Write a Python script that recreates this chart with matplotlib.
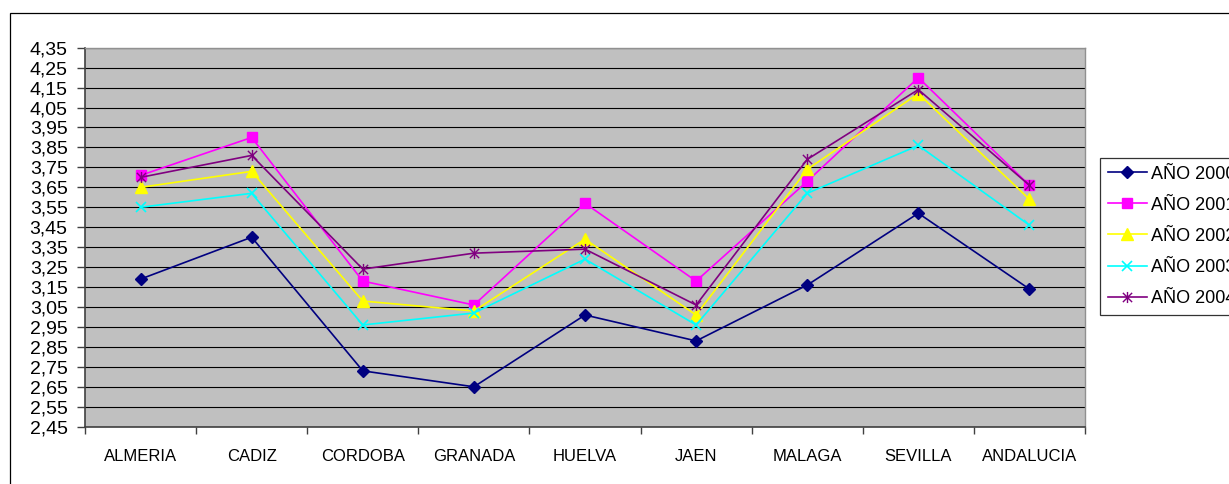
import matplotlib
matplotlib.use("Agg")
import matplotlib.pyplot as plt
from matplotlib.patches import Rectangle
from matplotlib.path import Path
from matplotlib.ticker import FixedLocator, FuncFormatter

plt.rcParams['font.family'] = ['Liberation Sans', 'DejaVu Sans']

categories = ["ALMERIA", "CADIZ", "CORDOBA", "GRANADA", "HUELVA", "JAEN", "MALAGA", "SEVILLA", "ANDALUCIA"]
series_names = ["AÑO 2000", "AÑO 2001", "AÑO 2002", "AÑO 2003", "AÑO 2004"]
ano_2000 = [3.19, 3.40, 2.73, 2.65, 3.01, 2.88, 3.16, 3.52, 3.14]
ano_2001 = [3.71, 3.90, 3.18, 3.06, 3.57, 3.18, 3.68, 4.20, 3.66]
ano_2002 = [3.65, 3.73, 3.08, 3.03, 3.39, 3.01, 3.74, 4.12, 3.59]
ano_2003 = [3.55, 3.62, 2.96, 3.02, 3.29, 2.96, 3.62, 3.86, 3.46]
ano_2004 = [3.70, 3.81, 3.24, 3.32, 3.34, 3.06, 3.79, 4.14, 3.66]
y_ticks = [2.45, 2.55, 2.65, 2.75, 2.85, 2.95, 3.05, 3.15, 3.25, 3.35, 3.45,
           3.55, 3.65, 3.75, 3.85, 3.95, 4.05, 4.15, 4.25, 4.35]

# Excel-style star marker: X plus vertical bar
star_path = Path([(-1, -1), (1, 1), (-1, 1), (1, -1), (0, -1.2), (0, 1.2)],
                 [Path.MOVETO, Path.LINETO, Path.MOVETO, Path.LINETO, Path.MOVETO, Path.LINETO])

styles = [
    dict(color="#000080", marker="D", ms=6.5, mfc="#000080", mec="#000080"),
    dict(color="#FF00FF", marker="s", ms=6.5, mfc="#FF00FF", mec="#FF00FF"),
    dict(color="#FFFF00", marker="^", ms=8.5, mfc="#FFFF00", mec="#FFFF00"),
    dict(color="#00FFFF", marker="x", ms=7, mew=1.2),
    dict(color="#800080", marker=star_path, ms=8, mew=1.0),
]
all_series = [ano_2000, ano_2001, ano_2002, ano_2003, ano_2004]

W, H = 1229, 484
fig = plt.figure(figsize=(W / 100, H / 100), dpi=100)
fig.patch.set_facecolor("white")

# outer chart frame
fig.patches.append(Rectangle((10 / W, -0.1), 1.2, 1 - 13 / H + 0.1, transform=fig.transFigure,
                             fill=False, edgecolor="black", lw=0.9, zorder=0))

left, right = 85 / W, 1085 / W
bottom, top = 1 - 426.7 / H, 1 - 47.7 / H
ax = fig.add_axes([left, bottom, right - left, top - bottom])
ax.set_facecolor("#C0C0C0")

x = list(range(len(categories)))
for name, vals, st in zip(series_names, all_series, styles):
    ax.plot(x, vals, lw=1.2, label=name, zorder=3, **st)

ax.set_xlim(-0.5, len(categories) - 0.5)
ax.set_ylim(y_ticks[0], y_ticks[-1])

ax.yaxis.set_major_locator(FixedLocator(y_ticks))
ax.yaxis.set_major_formatter(FuncFormatter(lambda v, p: f"{v:.2f}".replace(".", ",")))
ax.yaxis.grid(True, color="black", lw=0.8)
ax.set_axisbelow(True)

ax.xaxis.set_major_locator(FixedLocator([i - 0.5 for i in range(len(categories) + 1)]))
ax.xaxis.set_major_formatter(FuncFormatter(lambda v, p: ""))
ax.xaxis.set_minor_locator(FixedLocator(x))
ax.set_xticklabels(categories, minor=True)
ax.tick_params(axis="x", which="minor", length=0, pad=16, labelsize=12)
ax.tick_params(axis="x", which="major", length=5, width=1, color="#404040", direction="out")
ax.tick_params(axis="y", length=6, width=1, color="#404040", direction="out", pad=6.5, labelsize=14)

for s in ["left", "bottom"]:
    ax.spines[s].set_color("#404040")
    ax.spines[s].set_linewidth(1.2)
for s in ["top", "right"]:
    ax.spines[s].set_color("#909090")
    ax.spines[s].set_linewidth(1.0)

leg = fig.legend(loc="upper left", bbox_to_anchor=(1100 / W, 1 - 158 / H),
                 frameon=True, fancybox=False, shadow=False, fontsize=13,
                 handlelength=2.2, handletextpad=0.22, labelspacing=0.78,
                 borderpad=0.42, borderaxespad=0)
leg.get_frame().set_edgecolor("black")
leg.get_frame().set_linewidth(0.9)

fig.savefig("out.png", dpi=100)
